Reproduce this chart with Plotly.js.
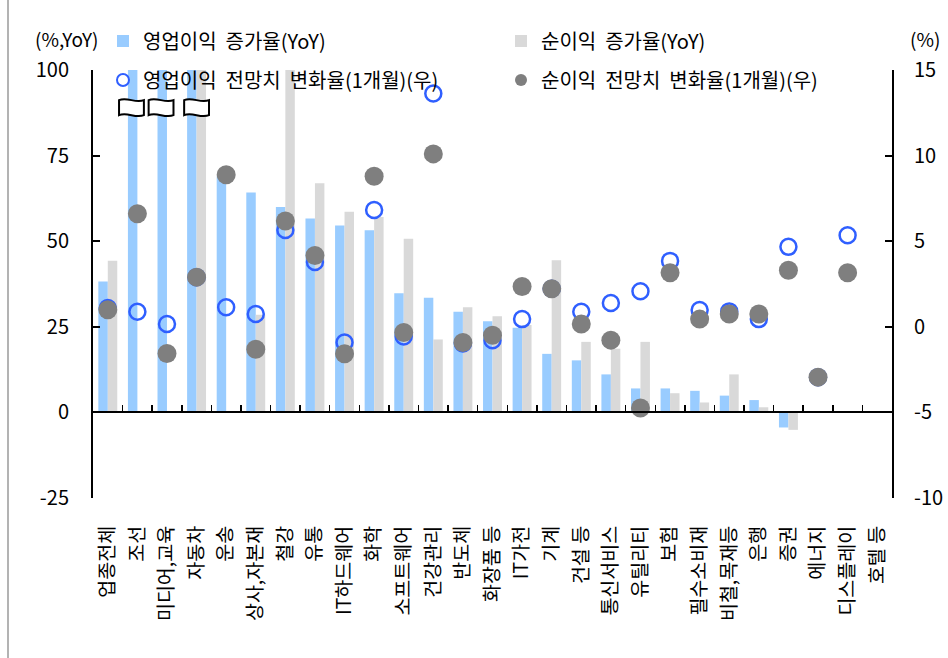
<!DOCTYPE html>
<html>
<head>
<meta charset="utf-8">
<script src="https://cdn.plot.ly/plotly-3.0.1.min.js"></script>
<style>
html,body{margin:0;padding:0;background:#fff;}
#chart{width:948px;height:658px;}
</style>
</head>
<body>
<div id="chart"></div>
<script>
// ---- data ----
const categories = ['업종전체','조선','미디어,교육','자동차','운송','상사,자본재','철강','유통','IT하드웨어','화학','소프트웨어','건강관리','반도체','화장품 등','IT가전','기계','건설 등','통신서비스','유틸리티','보험','필수소비재','비철,목재등','은행','증권','에너지','디스플레이','호텔 등'];
// 영업이익 증가율(YoY), 좌축 (%)
const opGrowth = [38.2, 120, 120, 120, 69.0, 64.2, 60.0, 56.6, 54.6, 53.2, 34.8, 33.5, 29.4, 26.6, 24.7, 17.1, 15.2, 11.1, 7.0, 7.0, 6.3, 4.9, 3.6, -4.4, null, null, null];
// 순이익 증가율(YoY), 좌축 (%)
const niGrowth = [44.3, null, null, 120, null, 28.5, 101, 66.9, 58.6, 57.1, 50.7, 21.3, 30.7, 28.1, 25.5, 44.4, 20.6, 18.6, 20.6, 5.6, 2.9, 11.1, 1.5, -5.1, null, null, null];
// 영업이익 전망치 변화율(1개월), 우축 (%)
const opRevision = [1.1, 0.88, 0.16, 2.9, 1.14, 0.75, 5.65, 3.79, -0.92, 6.82, -0.56, 13.63, -0.98, -0.78, 0.45, 2.22, 0.88, 1.39, 2.08, 3.85, 0.98, 0.9, 0.45, 4.67, -2.94, 5.35, null];
// 순이익 전망치 변화율(1개월), 우축 (%)
const niRevision = [1.0, 6.6, -1.56, 2.9, 8.88, -1.31, 6.18, 4.16, -1.57, 8.79, -0.33, 10.1, -0.92, -0.49, 2.35, 2.22, 0.16, -0.78, -4.74, 3.16, 0.45, 0.75, 0.75, 3.3, -2.94, 3.16, null];

const seriesNames = ['영업이익  증가율(YoY)','순이익  증가율(YoY)','영업이익  전망치  변화율(1개월)(우)','순이익  전망치  변화율(1개월)(우)'];
const leftTicks = [-25, 0, 25, 50, 75, 100];
const rightTicks = [-10, -5, 0, 5, 10, 15];

// ---- style ----
const FONT = '"Noto Sans CJK KR", "Noto Sans", sans-serif';
const BLUE = '#99CCFF', GREY = '#D9D9D9', RING = '#2F5FFF', DOT = '#7F7F7F';
const nb = s => s.replace(/ /g, '\u00a0');
const leftRange = [leftTicks[0], leftTicks[leftTicks.length - 1]];
const rightRange = [rightTicks[0], rightTicks[rightTicks.length - 1]];
const xRange = [-0.5, categories.length - 0.5];

const traces = [
  {type:'bar', name:nb(seriesNames[0]), x:categories, y:opGrowth, xaxis:'x', yaxis:'y',
   marker:{color:BLUE}, legend:'legend'},
  {type:'bar', name:nb(seriesNames[1]), x:categories, y:niGrowth, xaxis:'x', yaxis:'y',
   marker:{color:GREY}, legend:'legend'},
  {type:'scatter', mode:'markers', name:nb(seriesNames[2]), x:categories, y:opRevision, xaxis:'x2', yaxis:'y2',
   marker:{symbol:'circle-open', size:16, color:RING, line:{color:RING, width:2.5}}, legend:'legend2'},
  {type:'scatter', mode:'markers', name:nb(seriesNames[3]), x:categories, y:niRevision, xaxis:'x2', yaxis:'y2',
   marker:{symbol:'circle', size:19, color:DOT}, legend:'legend2'}
];

// break symbols for bars exceeding the left axis maximum
const shapes = [];
const brY = 89, brH = 2.2, amp = 1.0;
categories.forEach((c, i) => {
  const a = opGrowth[i] != null && opGrowth[i] > leftRange[1];
  const b = niGrowth[i] != null && niGrowth[i] > leftRange[1] + 5;
  if (!a && !b) return;
  const cx = (a && b) ? i : i - 0.2;
  const hw = 0.42;
  const x0 = cx - hw, x1 = cx + hw, w = x1 - x0;
  const yt = brY + brH, yb = brY - brH;
  const p = `M${x0},${yt} C${x0 + w/3},${yt + amp} ${x0 + 2*w/3},${yt - amp} ${x1},${yt} ` +
            `L${x1},${yb} C${x0 + 2*w/3},${yb - amp} ${x0 + w/3},${yb + amp} ${x0},${yb} Z`;
  shapes.push({type:'path', xref:'x', yref:'y', path:p, fillcolor:'#ffffff',
               line:{color:'#000', width:2}, layer:'above'});
});

// outer frame line (left)
const L = 93, T = 70, W = 799, H = 428;
const px2x = px => (px - L) / W;
const py2y = py => 1 - (py - T) / H;
shapes.push({type:'line', xref:'paper', yref:'paper', x0:px2x(8), x1:px2x(8), y0:py2y(658), y1:py2y(0),
             line:{color:'#9a9a9a', width:1.5}});

const zeroPos = (0 - leftRange[0]) / (leftRange[1] - leftRange[0]);

const layout = {
  width:948, height:658,
  margin:{l:L, r:948 - L - W, t:T, b:658 - T - H, pad:0},
  paper_bgcolor:'#fff', plot_bgcolor:'rgba(0,0,0,0)',
  font:{family:FONT, size:20, color:'#000'},
  barmode:'group', bargap:0.36, bargroupgap:0,
  xaxis:{type:'category', range:xRange, anchor:'free', position:zeroPos,
         showline:true, linecolor:'#000', linewidth:2,
         ticks:'inside', tickson:'boundaries', ticklen:6, tickwidth:1.5, tickcolor:'#000',
         showticklabels:false, showgrid:false, zeroline:false, fixedrange:true},
  xaxis2:{type:'category', range:xRange, overlaying:'x', anchor:'y2', side:'bottom',
          showline:false, ticks:'', showgrid:false, zeroline:false,
          tickangle:-90, ticklabelstandoff:23, tickfont:{size:19.5, family:FONT, color:'#000'}},
  yaxis:{range:leftRange, tickmode:'array', tickvals:leftTicks, ticktext:leftTicks.map(String),
         showline:true, linecolor:'#000', linewidth:2,
         ticks:'inside', ticklen:7, tickwidth:2, tickcolor:'#000', showgrid:false, zeroline:false,
         ticklabelstandoff:18, tickfont:{size:20}},
  yaxis2:{range:rightRange, tickmode:'array', tickvals:rightTicks, ticktext:rightTicks.map(String),
          overlaying:'y', side:'right', anchor:'x2',
          showline:true, linecolor:'#000', linewidth:2,
          ticks:'inside', ticklen:7, tickwidth:2, tickcolor:'#000', showgrid:false, zeroline:false,
          ticklabelstandoff:16, tickfont:{size:20}},
  legend:{orientation:'h', x:px2x(103), xanchor:'left', y:py2y(41), yanchor:'middle',
          bgcolor:'rgba(0,0,0,0)', entrywidth:353, entrywidthmode:'pixels',
          font:{size:20}, itemsizing:'constant', traceorder:'normal'},
  legend2:{orientation:'h', x:px2x(103), xanchor:'left', y:py2y(80), yanchor:'middle',
          bgcolor:'rgba(0,0,0,0)', entrywidth:353, entrywidthmode:'pixels',
          font:{size:20}, itemsizing:'constant', traceorder:'normal'},
  annotations:[
    {xref:'paper', yref:'paper', x:px2x(34), y:py2y(39), xanchor:'left', yanchor:'middle',
     text:'(%,YoY)', showarrow:false, borderpad:0, font:{size:19}},
    {xref:'paper', yref:'paper', x:px2x(909), y:py2y(39), xanchor:'left', yanchor:'middle',
     text:'(%)', showarrow:false, borderpad:0, font:{size:19}}
  ],
  shapes:shapes,
  showlegend:true
};

Plotly.newPlot('chart', traces, layout, {displayModeBar:false, staticPlot:true});
</script>
</body>
</html>
